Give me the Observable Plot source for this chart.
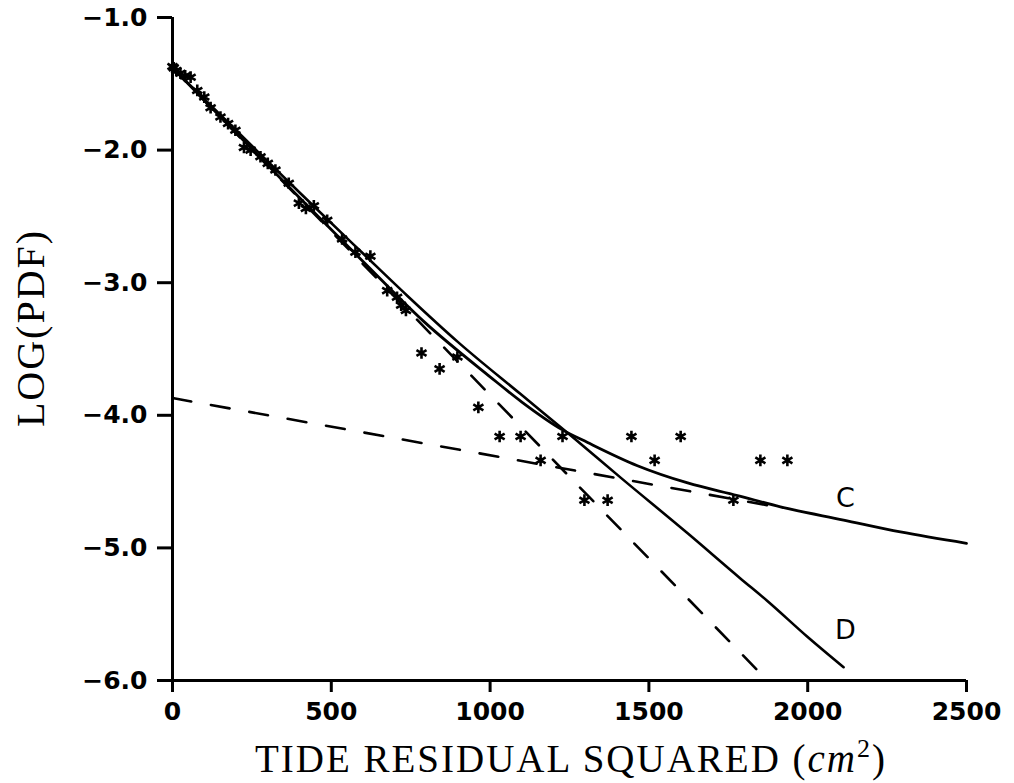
<!DOCTYPE html>
<html>
<head>
<meta charset="utf-8">
<script src="https://cdn.jsdelivr.net/npm/d3@7"></script>
<script src="https://cdn.jsdelivr.net/npm/@observablehq/plot@0.6"></script>
<style>
  html, body { margin: 0; padding: 0; background: #fff; }
  #chart svg { display: block; }
</style>
</head>
<body>
<div id="chart"></div>
<script>
// Observed data points (stars): tide residual squared (cm^2) vs log(pdf)
const obsX = [0, 4, 12, 25, 40, 57, 78, 100, 120, 151, 175, 198, 225, 246, 277, 300, 324, 366, 398, 420, 445, 487, 534, 576, 623, 676, 707, 720, 735, 784, 841, 897, 963, 1030, 1096, 1159, 1228, 1297, 1370, 1445, 1518, 1600, 1766, 1851, 1936];
const obsY = [-1.37, -1.38, -1.40, -1.42, -1.44, -1.45, -1.55, -1.60, -1.68, -1.75, -1.80, -1.85, -1.98, -2.00, -2.05, -2.10, -2.15, -2.25, -2.40, -2.44, -2.42, -2.53, -2.67, -2.77, -2.80, -3.06, -3.11, -3.17, -3.21, -3.53, -3.65, -3.56, -3.94, -4.16, -4.16, -4.34, -4.16, -4.64, -4.64, -4.16, -4.34, -4.16, -4.64, -4.34, -4.34];

// Solid curve C
const curveCX = [0, 200, 400, 600, 790, 1000, 1100, 1228, 1307, 1464, 1622, 1779, 1914, 2113, 2292, 2500];
const curveCY = [-1.38, -1.87, -2.36, -2.84, -3.29, -3.71, -3.90, -4.11, -4.205, -4.38, -4.51, -4.605, -4.69, -4.79, -4.88, -4.965];

// Solid curve D
const curveDX = [0, 200, 400, 600, 740, 900, 1096, 1253, 1411, 1622, 1788, 1873, 1999, 2113];
const curveDY = [-1.38, -1.85, -2.32, -2.78, -3.10, -3.45, -3.84, -4.15, -4.47, -4.89, -5.23, -5.40, -5.67, -5.90];

// Dashed steep line
const dashSteepX = [0, 1873];
const dashSteepY = [-1.38, -6.0];

// Dashed shallow line
const dashFlatX = [0, 1877];
const dashFlatY = [-3.87, -4.68];

// Curve labels
const labelText = ["C", "D"];
const labelX = [2119, 2119];
const labelY = [-4.63, -5.62];

// Axis ticks
const xTicks = [0, 500, 1000, 1500, 2000, 2500];
const yTicks = [-6, -5, -4, -3, -2, -1];

const zip = (xs, ys) => xs.map((x, i) => ({x, y: ys[i]}));
const obs = zip(obsX, obsY);
const curveC = zip(curveCX, curveCY);
const curveD = zip(curveDX, curveDY);
const dashSteep = zip(dashSteepX, dashSteepY);
const dashFlat = zip(dashFlatX, dashFlatY);
const labels = labelText.map((t, i) => ({t, x: labelX[i], y: labelY[i]}));

const W = 1014, H = 783;
const mL = 172, mR = 48, mT = 17, mB = 103;

const chart = Plot.plot({
  width: W,
  height: H,
  marginLeft: mL,
  marginRight: mR,
  marginTop: mT,
  marginBottom: mB,
  style: {fontFamily: "DejaVu Sans", fontSize: "25px", color: "#000", background: "#fff"},
  x: {domain: [0, 2500], label: null},
  y: {domain: [-6, -1], label: null},
  marks: [
    Plot.axisX({ticks: xTicks, tickFormat: d3.format("d"), tickSize: 12, tickPadding: 10, strokeWidth: 3, fontSize: 25, fontWeight: "bold", label: null}),
    Plot.axisY({ticks: yTicks, tickFormat: d3.format(".1f"), tickSize: 15, tickPadding: 10, strokeWidth: 3, fontSize: 25, fontWeight: "bold", label: null}),
    Plot.ruleX([0], {y1: -6, y2: -1, stroke: "#000", strokeWidth: 3}),
    Plot.ruleY([-6], {x1: 0, x2: 2500, stroke: "#000", strokeWidth: 3}),
    Plot.line(dashSteep, {x: "x", y: "y", stroke: "#000", strokeWidth: 2.6, strokeDasharray: "19,20"}),
    Plot.line(dashFlat, {x: "x", y: "y", stroke: "#000", strokeWidth: 2.6, strokeDasharray: "19,20"}),
    Plot.line(curveC, {x: "x", y: "y", stroke: "#000", strokeWidth: 2.8, curve: "monotone-x"}),
    Plot.line(curveD, {x: "x", y: "y", stroke: "#000", strokeWidth: 2.6, curve: "monotone-x"}),
    Plot.dot(obs, {x: "x", y: "y", symbol: "asterisk", r: 5.5, stroke: "#000", strokeWidth: 2.6}),
    Plot.text(labels, {x: "x", y: "y", text: "t", fontSize: 27, fontFamily: "DejaVu Sans", fill: "#000"})
  ]
});

document.getElementById("chart").appendChild(chart);

const svg = d3.select(chart);
// X axis title
const xt = svg.append("text")
  .attr("x", 571).attr("y", 772)
  .attr("text-anchor", "middle")
  .style("font-family", "'Liberation Serif', serif")
  .style("font-size", "39px")
  .style("letter-spacing", "2px")
  .attr("fill", "#000");
xt.append("tspan").text("TIDE RESIDUAL SQUARED (");
xt.append("tspan").style("font-style", "italic").text("cm");
xt.append("tspan").attr("dy", -15).style("font-size", "26px").text("2");
xt.append("tspan").attr("dy", 15).text(")");

// Y axis title
svg.append("text")
  .attr("transform", "translate(44,328) rotate(-90)")
  .attr("text-anchor", "middle")
  .style("font-family", "'Liberation Serif', serif")
  .style("font-size", "40px")
  .style("letter-spacing", "2px")
  .attr("fill", "#000")
  .text("LOG(PDF)");
</script>
</body>
</html>
